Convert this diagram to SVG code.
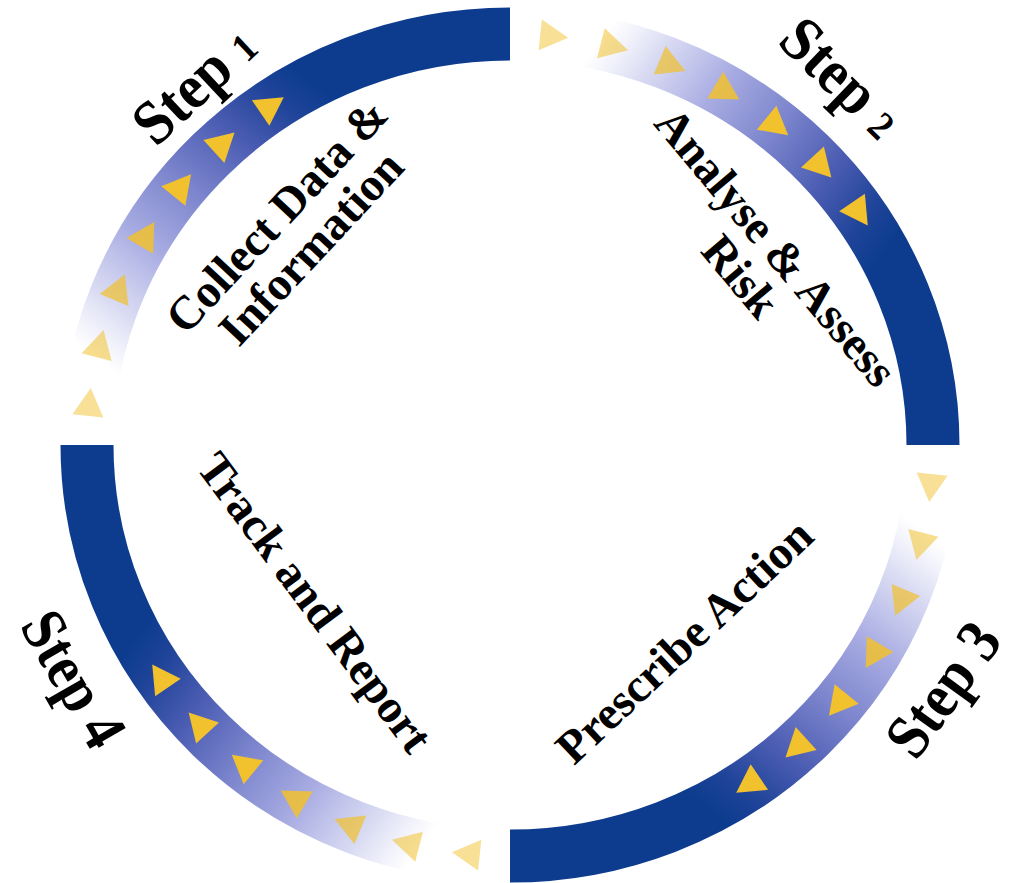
<svg xmlns="http://www.w3.org/2000/svg" width="1017" height="883" viewBox="0 0 1017 883">
<defs>
<style>
.arc{fill:none;stroke-width:53;stroke-linecap:butt}
.tri{fill:#f1c12e}
.step{font-family:"Liberation Serif","Times New Roman",serif;font-weight:bold;font-size:63px;fill:#000}
.lbl{font-family:"Liberation Serif","Times New Roman",serif;font-weight:bold;font-size:47px;fill:#000;text-anchor:middle}
</style>
<linearGradient id="g1" gradientUnits="userSpaceOnUse" x1="96.3" y1="359.5" x2="311.4" y2="82.1">
<stop offset="0" stop-color="#dcdef4" stop-opacity="0"/>
<stop offset="0.15" stop-color="#d4d6f1" stop-opacity="0.85"/>
<stop offset="0.35" stop-color="#a8ace2"/>
<stop offset="0.55" stop-color="#7c85cd"/>
<stop offset="0.75" stop-color="#4a5cb2"/>
<stop offset="0.9" stop-color="#1f4499"/>
<stop offset="1" stop-color="#0d3c8f"/>
</linearGradient>
<linearGradient id="g2" href="#g1" x1="597.9" y1="43" x2="883.5" y2="252"/>
<linearGradient id="g3" href="#g1" x1="923.7" y1="530.5" x2="708.6" y2="807.9"/>
<linearGradient id="g4" href="#g1" x1="422.1" y1="847" x2="136.5" y2="638"/>
<polygon id="tri" points="14,0 -14,-15.5 -14,15.5"/>
</defs>
<rect width="1017" height="883" fill="#ffffff"/>
<g id="connectors">
<path class="arc" stroke="url(#g1)" d="M87 445 A423 411 0 0 1 510 34"/>
<path class="arc" stroke="url(#g2)" d="M510 34 A423 411 0 0 1 933 445"/>
<path class="arc" stroke="url(#g3)" d="M933 445 A423 411 0 0 1 510 856"/>
<path class="arc" stroke="url(#g4)" d="M510 856 A423 411 0 0 1 87 445"/>
<g class="tri">
<use href="#tri" opacity="0.5" transform="translate(89.3 402) rotate(276)"/>
<use href="#tri" opacity="0.55" transform="translate(100.1 343.5) rotate(284.3)"/>
<use href="#tri" opacity="0.7" transform="translate(119.5 287.1) rotate(292.6)"/>
<use href="#tri" opacity="0.85" transform="translate(147.1 233.9) rotate(300.9)"/>
<use href="#tri" transform="translate(182.2 185.2) rotate(309.2)"/>
<use href="#tri" transform="translate(224.2 142) rotate(317.5)"/>
<use href="#tri" transform="translate(272.2 105.1) rotate(325.8)"/>
<use href="#tri" opacity="0.5" transform="translate(554.2 36.3) rotate(6)"/>
<use href="#tri" opacity="0.55" transform="translate(614.5 46.7) rotate(14.3)"/>
<use href="#tri" opacity="0.7" transform="translate(672.6 65.6) rotate(22.6)"/>
<use href="#tri" opacity="0.85" transform="translate(727.3 92.3) rotate(30.9)"/>
<use href="#tri" transform="translate(777.4 126.5) rotate(39.2)"/>
<use href="#tri" transform="translate(821.9 167.3) rotate(47.5)"/>
<use href="#tri" transform="translate(859.9 214) rotate(55.8)"/>
<use href="#tri" opacity="0.5" transform="translate(930.7 488) rotate(96)"/>
<use href="#tri" opacity="0.55" transform="translate(919.9 546.5) rotate(104.3)"/>
<use href="#tri" opacity="0.7" transform="translate(900.5 602.9) rotate(112.6)"/>
<use href="#tri" opacity="0.85" transform="translate(872.9 656.1) rotate(120.9)"/>
<use href="#tri" transform="translate(837.8 704.8) rotate(129.2)"/>
<use href="#tri" transform="translate(795.8 748) rotate(137.5)"/>
<use href="#tri" transform="translate(747.8 784.9) rotate(145.8)"/>
<use href="#tri" opacity="0.5" transform="translate(465.8 853.7) rotate(186)"/>
<use href="#tri" opacity="0.55" transform="translate(405.5 843.3) rotate(194.3)"/>
<use href="#tri" opacity="0.7" transform="translate(347.4 824.4) rotate(202.6)"/>
<use href="#tri" opacity="0.85" transform="translate(292.7 797.7) rotate(210.9)"/>
<use href="#tri" transform="translate(242.6 763.5) rotate(219.2)"/>
<use href="#tri" transform="translate(198.1 722.7) rotate(227.5)"/>
<use href="#tri" transform="translate(160.1 676) rotate(235.8)"/>
</g>
</g>
<g id="step1">
<text class="step" transform="translate(156 148) rotate(-43) scale(0.92 1)">Step <tspan font-size="40">1</tspan></text>
<text class="lbl" transform="translate(288 226.5) rotate(-47)"><tspan x="0" y="0">Collect Data &amp;</tspan><tspan x="0" y="47">Information</tspan></text>
</g>
<g id="step2">
<text class="step" transform="translate(776 43) rotate(44) scale(0.92 1)">Step <tspan font-size="40">2</tspan></text>
<text class="lbl" font-size="48" transform="translate(764 257) rotate(50)"><tspan x="0" y="0">Analyse &amp; Assess</tspan><tspan x="0" y="46">Risk</tspan></text>
</g>
<g id="step3">
<text class="step" font-size="64" transform="translate(916 762) rotate(-54) scale(0.9 1)">Step 3</text>
<text class="lbl" font-size="48" transform="translate(695 652.7) rotate(-43.2)">Prescribe Action</text>
</g>
<g id="step4">
<text class="step" font-size="64" transform="translate(19 626) rotate(60) scale(0.88 1)">Step 4</text>
<text class="lbl" transform="translate(302.4 611.8) rotate(53.4)">Track and Report</text>
</g>
</svg>
